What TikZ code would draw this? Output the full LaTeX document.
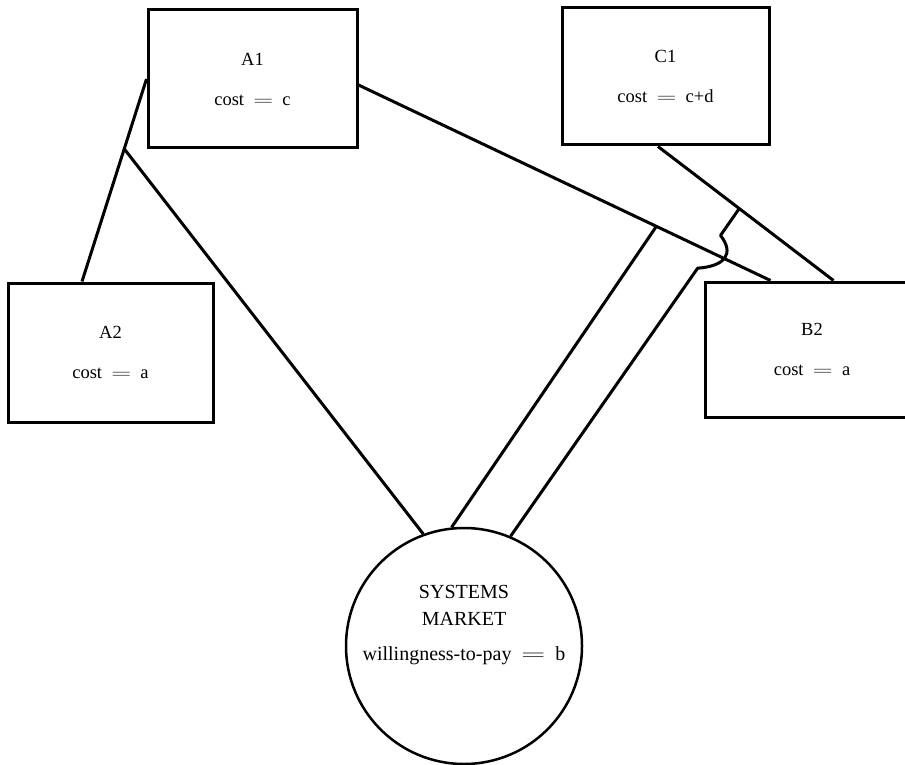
\documentclass[tikz,border=0pt]{standalone}
\usepackage{graphicx}
\usepackage{fontspec}
\setmainfont{Liberation Serif}
\usetikzlibrary{calc,positioning}
\newcommand{\wideeq}{\scalebox{1.6}[1]{$=$}}

\begin{document}
\begin{tikzpicture}[x=1pt,y=-1pt,line width=3pt,
  unitbox/.style={draw,rectangle,inner sep=0pt,align=center,font=\fontsize{18.5}{21}\selectfont},
  market/.style={draw,circle,line width=2.5pt,inner sep=0pt,minimum size=236pt},
  link/.style={line join=round}]
	\useasboundingbox (0,0) rectangle (905,765);
	\node[unitbox,minimum width=209pt,minimum height=138pt] (A1) at (252.5,79)  {A1\\[19pt]cost\enspace\wideeq\enspace c};
	\node[unitbox,minimum width=207pt,minimum height=137pt] (C1) at (665.5,76.5) {C1\\[19pt]cost\enspace\wideeq\enspace c+d};
	\node[unitbox,minimum width=205pt,minimum height=139pt] (A2) at (110.5,352.5) {A2\\[19pt]cost\enspace\wideeq\enspace a};
	\node[unitbox,minimum width=214pt,minimum height=135pt] (B2) at (812,349.5) {B2\\[19pt]cost\enspace\wideeq\enspace a};
	\node[market] (M) at (464,646) {};
	\node[align=center,font=\fontsize{20}{27}\selectfont] (Mlabel) at ($(M.center)+(0,-21)$)
	  {SYSTEMS\\MARKET\\[8pt]willingness-to-pay\enspace\wideeq\enspace b};
	% meeting points on the box edges
	\coordinate (a2top) at ($(A2.north)+(-28.5,0)$);
	\coordinate (a1r)   at ($(A1.east)+(0,6)$);
	\coordinate (c1b)   at ($(C1.south)+(-7.5,0)$);
	\coordinate (b2l)   at ($(B2.north west)+(67,0)$);
	\coordinate (b2r)   at ($(B2.north west)+(130,0)$);
	\coordinate (j1) at ($(A1.west)!0.345!(a2top)$);
	\coordinate (j2) at ($(a1r)!0.723!(b2l)$);
	\coordinate (j3) at ($(c1b)!0.463!(b2r)$);
	\coordinate (h1) at ($(j3)!0.082!(M.67)$);
	\coordinate (h2) at ($(j3)!0.182!(M.67)$);
	\draw[link] (A1.west) -- (a2top);
	\draw[link] (j1) -- (M.110);
	\draw[link] (a1r) -- (b2l);
	\draw[link] (j2) -- (M.96);
	\draw[link] (c1b) -- (b2r);
	\draw[link] (j3) -- (h1) .. controls +(14,18) and +(28,-2) .. (h2) -- (M.67);
\end{tikzpicture}
\end{document}
